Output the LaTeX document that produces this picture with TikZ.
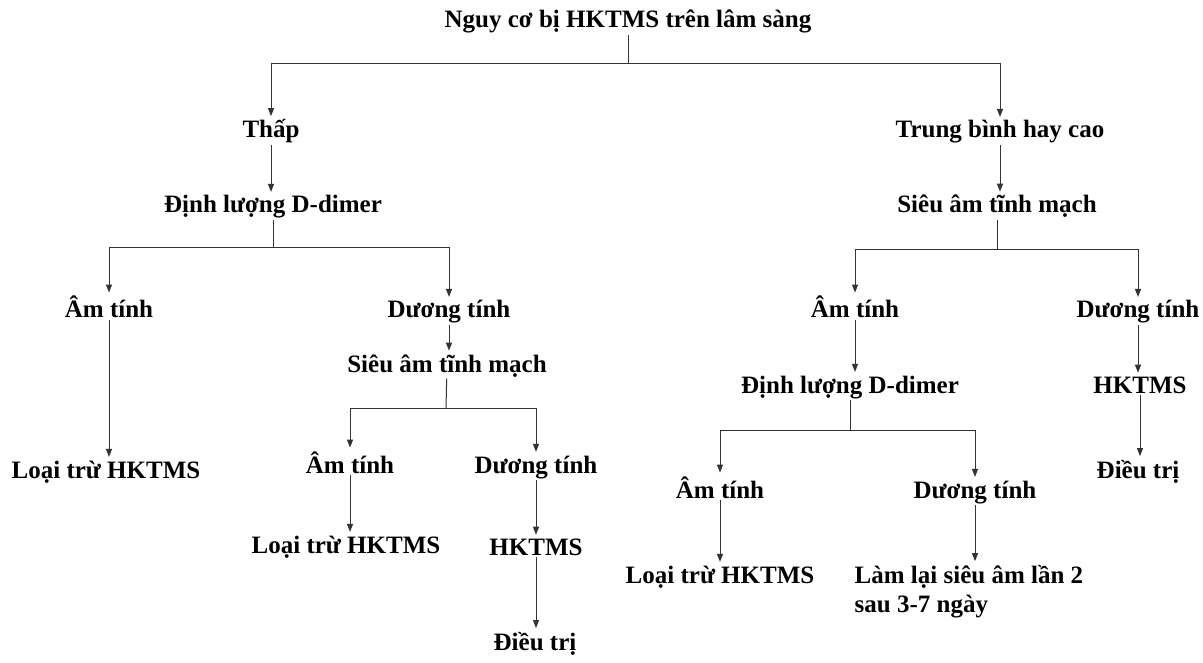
\documentclass[tikz,border=0pt]{standalone}
\usepackage{fontspec}
\setmainfont{Liberation Serif}
\usetikzlibrary{arrows.meta}
\tikzset{
  lbl/.style={font=\bfseries\fontsize{25}{29}\selectfont, inner sep=1.5pt, text=black},
  conn/.style={line width=1pt, draw=black!80},
  arr/.style={conn, shorten >=2pt, -{Triangle[length=8pt,width=6pt]}}
}
\begin{document}
\begin{tikzpicture}[x=1pt,y=-1pt]
\useasboundingbox (0,0) rectangle (1203,663);
% nodes
\node[lbl, anchor=base] (title) at (628,28) {Nguy cơ bị HKTMS trên lâm sàng};
\node[lbl, anchor=base] (thap) at (271,138) {Thấp};
\node[lbl, anchor=base] (tbhc) at (1000,138) {Trung bình hay cao};
\node[lbl, anchor=base] (dl1) at (273,213) {Định lượng D-dimer};
\node[lbl, anchor=base] (sa1) at (997,213) {Siêu âm tĩnh mạch};
\node[lbl, anchor=base] (am1) at (109,318) {Âm tính};
\node[lbl, anchor=base] (dt1) at (449,318) {Dương tính};
\node[lbl, anchor=base] (am2) at (855,318) {Âm tính};
\node[lbl, anchor=base] (dt2) at (1138,318) {Dương tính};
\node[lbl, anchor=base] (lt1) at (106,478) {Loại trừ HKTMS};
\node[lbl, anchor=base] (sa2) at (447,372) {Siêu âm tĩnh mạch};
\node[lbl, anchor=base] (am3) at (350,473) {Âm tính};
\node[lbl, anchor=base] (dt3) at (536,473) {Dương tính};
\node[lbl, anchor=base] (lt2) at (346,553) {Loại trừ HKTMS};
\node[lbl, anchor=base] (hk1) at (536,555) {HKTMS};
\node[lbl, anchor=base] (dtr1) at (535,650) {Điều trị};
\node[lbl, anchor=base] (dl2) at (850,393) {Định lượng D-dimer};
\node[lbl, anchor=base] (am4) at (720,498) {Âm tính};
\node[lbl, anchor=base] (dt4) at (975,498) {Dương tính};
\node[lbl, anchor=base] (lt3) at (720,583) {Loại trừ HKTMS};
\node[lbl, anchor=base west, align=left] (ll) at (853,612) {Làm lại siêu âm lần 2\\sau 3-7 ngày};
\node[lbl, anchor=base] (hk2) at (1140,393) {HKTMS};
\node[lbl, anchor=base] (dtr2) at (1138,478) {Điều trị};
% junctions
\coordinate (j0) at (628,64);
\coordinate (j1) at (273,248);
\coordinate (j2) at (997,250);
\coordinate (j3) at (446,408);
\coordinate (j4) at (850,430);
% connectors
\draw[conn] (title) -- (j0);
\draw[arr] (j0) -| (thap.north);
\draw[arr] (j0) -| (tbhc.north);
\draw[arr] (thap) -- (thap |- dl1.north);
\draw[arr] (tbhc) -- (tbhc |- sa1.north);
\draw[conn] (dl1) -- (j1);
\draw[arr] (j1) -| (am1.north);
\draw[arr] (j1) -| (dt1.north);
\draw[conn] (sa1) -- (j2);
\draw[arr] (j2) -| (am2.north);
\draw[arr] (j2) -| (dt2.north);
\draw[arr] (am1) -- (am1 |- lt1.north);
\draw[arr] (dt1) -- (dt1 |- sa2.north);
\draw[conn] (sa2) -- (j3);
\draw[arr] (j3) -| (am3.north);
\draw[arr] (j3) -| (dt3.north);
\draw[arr] (am3) -- (am3 |- lt2.north);
\draw[arr] (dt3) -- (dt3 |- hk1.north);
\draw[arr] (hk1) -- (hk1 |- dtr1.north);
\draw[arr] (am2) -- (am2 |- dl2.north);
\draw[conn] (dl2) -- (j4);
\draw[arr] (j4) -| (am4.north);
\draw[arr] (j4) -| (dt4.north);
\draw[arr] (am4) -- (am4 |- lt3.north);
\draw[arr] (dt4) -- (dt4 |- ll.north);
\draw[arr] (dt2) -- (dt2 |- hk2.north);
\draw[arr] (hk2) -- (hk2 |- dtr2.north);
\end{tikzpicture}
\end{document}
